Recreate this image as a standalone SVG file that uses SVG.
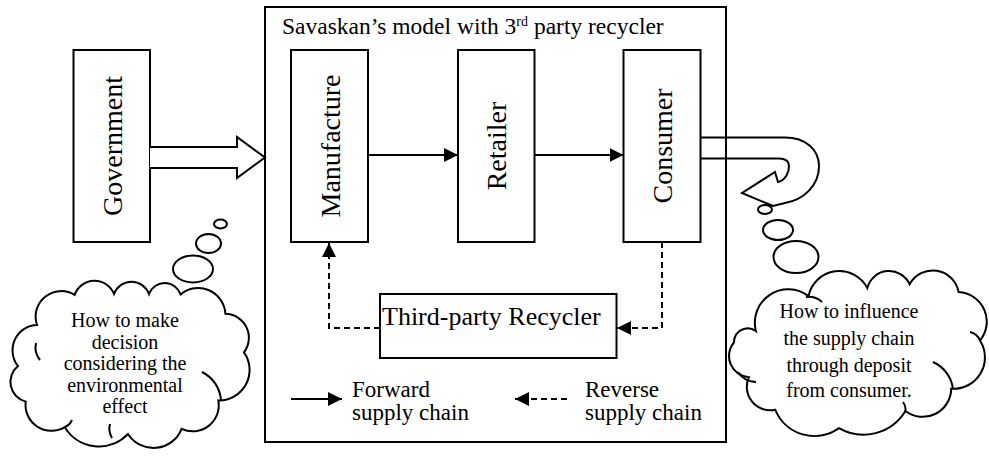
<svg xmlns="http://www.w3.org/2000/svg" width="989" height="457" viewBox="0 0 989 457">
<defs>
<style>
.box{fill:#fff;stroke:#000;stroke-width:2}
.frame{fill:none;stroke:#000;stroke-width:2}
.t{font-family:"Liberation Serif","Times New Roman",serif;fill:#000}
.big{font-size:28px}
.lbl{font-size:26px}
.leg{font-size:23px}
.cl{font-size:20px;text-anchor:middle}
.fw{stroke:#000;stroke-width:2;fill:none;marker-end:url(#ah)}
.rv{stroke:#000;stroke-width:2;fill:none;stroke-dasharray:6,4;marker-end:url(#ah)}
.cloud{fill:#fff;stroke:#000;stroke-width:2}
.in{fill:none;stroke:#000;stroke-width:2}
.bub{fill:#fff;stroke:#000;stroke-width:2}
</style>
<marker id="ah" markerUnits="userSpaceOnUse" markerWidth="15" markerHeight="14" refX="14" refY="7" orient="auto">
<path d="M0,0 L14,7 L0,14 Z" fill="#000"/>
</marker>
</defs>
<rect width="989" height="457" fill="#fff"/>

<g id="model-frame">
<rect class="frame" x="265" y="7" width="461" height="435"/>
<text class="t" font-family="Liberation Serif, serif" x="282" y="34" style="font-size:23.5px">Savaskan’s model with 3<tspan font-size="14" dy="-8">rd</tspan><tspan dy="8"> party recycler</tspan></text>
</g>

<g id="government">
<rect class="box" x="73.5" y="50" width="76.5" height="192"/>
<text class="t big" text-anchor="middle" transform="translate(122,146) rotate(-90)">Government</text>
</g>

<g id="gov-arrow">
<path d="M150,147 L237,147 L237,137 L265,157.5 L237,178 L237,168 L150,168" fill="#fff" stroke="#000" stroke-width="2"/>
</g>

<g id="manufacture">
<rect class="box" x="291" y="50" width="77" height="192"/>
<text class="t big" text-anchor="middle" transform="translate(340,146) rotate(-90)">Manufacture</text>
</g>

<g id="retailer">
<rect class="box" x="458" y="50" width="76.5" height="192"/>
<text class="t big" text-anchor="middle" transform="translate(506,146) rotate(-90)">Retailer</text>
</g>

<g id="consumer">
<rect class="box" x="623.5" y="50" width="77" height="192"/>
<text class="t big" text-anchor="middle" transform="translate(672,146) rotate(-90)">Consumer</text>
</g>

<g id="recycler">
<rect class="box" x="380" y="294" width="236.5" height="64"/>
<text class="t lbl" x="382" y="325">Third-party Recycler</text>
</g>

<g id="connectors">
<line class="fw" x1="368" y1="155" x2="458" y2="155"/>
<line class="fw" x1="534.5" y1="155" x2="623.5" y2="155"/>
<polyline class="rv" points="662,242 662,328 617,328"/>
<polyline class="rv" points="380,328 329,328 329,243"/>
<path d="M700,137.5 L785,137.5 C806,137.5 819,150 819,166 C819,186 803,200 785,203 L773,206 L742,193 L775,172 L778,182 C786,180 789,172 789,166 C789,161 785,158.5 779,158.5 L700,158.5" fill="none" stroke="#000" stroke-width="2"/>
</g>

<g id="legend">
<line class="fw" x1="291" y1="399" x2="342" y2="399"/>
<text class="t leg" x="352" y="397">Forward</text>
<text class="t leg" x="352" y="420">supply chain</text>
<line class="rv" x1="567" y1="399" x2="515" y2="399"/>
<text class="t leg" x="585" y="397">Reverse</text>
<text class="t leg" x="585" y="420">supply chain</text>
</g>

<g id="gov-thought" font-family="Liberation Serif, serif">
<path class="cloud" d="M37,325 A25.5,25.5 0 0 1 74.6,295 A21,21 0 0 1 114,294 A18.6,18.6 0 0 1 149,294 A16.8,16.8 0 0 1 180.6,294.4 A27.3,27.3 0 0 1 225.4,313.8 A24,24 0 0 1 244,352.3 A30.5,30.5 0 0 1 218.3,400.4 A26,26 0 0 1 181.6,428.8 A30.2,30.2 0 0 1 128,434 A40,40 0 0 1 64.8,427.2 A26,26 0 0 1 25.7,401.6 A20.4,20.4 0 0 1 18,366 A25.3,25.3 0 0 1 37,325 Z"/>
<path class="in" d="M36,343 A20,20 0 0 0 40,360 M202,372 A34,34 0 0 1 221,401 M110,424 A18,18 0 0 0 112,438 M64.8,427.2 A14,14 0 0 0 72,420"/>
<ellipse class="bub" cx="193" cy="269" rx="20" ry="13.5"/>
<ellipse class="bub" cx="208.5" cy="243.5" rx="12.5" ry="9.5"/>
<ellipse class="bub" cx="220.5" cy="224" rx="6.5" ry="4.5"/>
<text class="t cl" x="125" y="327">How to make</text>
<text class="t cl" x="125" y="348.5">decision</text>
<text class="t cl" x="125" y="370">considering the</text>
<text class="t cl" x="125" y="391.5">environmental</text>
<text class="t cl" x="125" y="413">effect</text>
</g>

<g id="consumer-thought" font-family="Liberation Serif, serif">
<path class="cloud" d="M755.9,331 A33.4,33.4 0 0 1 808.5,296.1 A31.5,31.5 0 0 1 867.3,288 A22.5,22.5 0 0 1 909.6,284.2 A26.3,26.3 0 0 1 958.6,292.1 A29.6,29.6 0 0 1 980,340.5 A31.4,31.4 0 0 1 951.2,388.7 A28.5,28.5 0 0 1 905.4,411 A49,49 0 0 1 839,428.1 A42.3,42.3 0 0 1 775.3,409.8 A23.5,23.5 0 0 1 748.9,377.2 A21.2,21.2 0 0 1 734,342.4 A13.8,13.8 0 0 1 755.9,331 Z"/>
<path class="in" d="M806,297 A20,20 0 0 1 822,302 M933,362 A34,34 0 0 1 953,389 M970,332 A14,14 0 0 1 980,340.5 M738,372 A22,22 0 0 0 756,382 M905.4,411 A12,12 0 0 0 903,402"/>
<ellipse class="bub" cx="796" cy="257" rx="22.5" ry="16"/>
<ellipse class="bub" cx="778" cy="230" rx="15" ry="10"/>
<ellipse class="bub" cx="765" cy="209.5" rx="7" ry="4.5"/>
<text class="t cl" x="849" y="318">How to influence</text>
<text class="t cl" x="849" y="345">the supply chain</text>
<text class="t cl" x="849" y="371.5">through deposit</text>
<text class="t cl" x="849" y="397">from consumer.</text>
</g>
</svg>
